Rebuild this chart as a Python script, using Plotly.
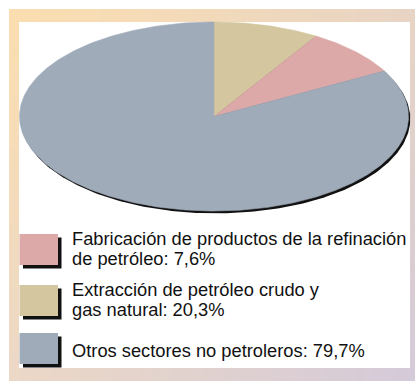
import numpy as np
import plotly.graph_objects as go

# ---- data ----
categories = [
    "Fabricación de productos de la refinación de petróleo",
    "Extracción de petróleo crudo y gas natural",
    "Otros sectores no petroleros",
]
label_pct = ["7,6%", "20,3%", "79,7%"]
# slice sizes as drawn in the picture (percent of the ellipse)
slice_values = [8.2, 8.8, 83.0]
# clockwise drawing order starting at 12 o'clock
slice_order = [1, 0, 2]
slice_colors = ["#DCA9A8", "#D4C7A0", "#A0ABBA"]
legend_lines = [
    ["Fabricación de productos de la refinación", "de petróleo: 7,6%"],
    ["Extracción de petróleo crudo y", "gas natural: 20,3%"],
    ["Otros sectores no petroleros: 79,7%"],
]

# ---- geometry / style ----
W, H = 415, 381
cx, cy, ea, eb = 214, 116.5, 194.5, 94.5

fig = go.Figure()

def ellipse_pts(t0, t1, n=200, dx=0.0, dy=0.0, center=True):
    t = np.linspace(t0, t1, n)
    xs = list(cx + dx + ea * np.sin(t))
    ys = list(cy + dy - eb * np.cos(t))
    if center:
        xs = [cx + dx] + xs + [cx + dx]
        ys = [cy + dy] + ys + [cy + dy]
    return xs, ys

# shadow under the pie
sx, sy = ellipse_pts(0, 2 * np.pi, 400, dx=1.8, dy=2.4, center=False)
fig.add_trace(go.Scatter(x=sx, y=sy, fill="toself", fillcolor="#111111",
                         line=dict(width=0), mode="lines", hoverinfo="skip",
                         showlegend=False))

total = sum(slice_values)
start = 0.0
for idx in slice_order:
    span = 2 * np.pi * slice_values[idx] / total
    xs, ys = ellipse_pts(start, start + span, max(20, int(span * 80)))
    fig.add_trace(go.Scatter(x=xs, y=ys, fill="toself",
                             fillcolor=slice_colors[idx],
                             line=dict(width=0.6, color=slice_colors[idx]),
                             mode="lines", name=categories[idx],
                             hoverinfo="name", showlegend=False))
    start += span

shapes = []
# gradient frame
TL, TR, BL, BR = (251, 222, 176), (232, 212, 196), (236, 216, 198), (212, 202, 217)

def mix(c1, c2, f):
    return "rgb(%d,%d,%d)" % tuple(round(a + (b - a) * f) for a, b in zip(c1, c2))

fx0, fy0, fx1, fy1 = 9, 9, 415, 381
ix0, iy0, ix1, iy1 = 19, 22, 410, 368
N = 40
for i in range(N):
    f = (i + 0.5) / N
    xa = fx0 + (fx1 - fx0) * i / N
    xb = fx0 + (fx1 - fx0) * (i + 1) / N
    ya = fy0 + (fy1 - fy0) * i / N
    yb = fy0 + (fy1 - fy0) * (i + 1) / N
    shapes.append(dict(type="rect", xref="x", yref="y", x0=xa, x1=xb + 0.6, y0=fy0, y1=iy0,
                       fillcolor=mix(TL, TR, f), line=dict(width=0), layer="below"))
    shapes.append(dict(type="rect", xref="x", yref="y", x0=xa, x1=xb + 0.6, y0=iy1, y1=fy1,
                       fillcolor=mix(BL, BR, f), line=dict(width=0), layer="below"))
    shapes.append(dict(type="rect", xref="x", yref="y", x0=fx0, x1=ix0, y0=ya, y1=yb + 0.6,
                       fillcolor=mix(TL, BL, f), line=dict(width=0), layer="below"))
    shapes.append(dict(type="rect", xref="x", yref="y", x0=ix1, x1=fx1, y0=ya, y1=yb + 0.6,
                       fillcolor=mix(TR, BR, f), line=dict(width=0), layer="below"))

# legend swatches with drop shadow
sw_tops = [234, 285, 333]
sw_x0, sw_w, sw_h, sh = 19.5, 38.5, 31, 3.5
annotations = []
for k, top in enumerate(sw_tops):
    shapes.append(dict(type="rect", xref="x", yref="y", x0=sw_x0 + sh, x1=sw_x0 + sw_w + sh,
                       y0=top + sh, y1=top + sw_h + sh, fillcolor="#111111", line=dict(width=0)))
    shapes.append(dict(type="rect", xref="x", yref="y", x0=sw_x0, x1=sw_x0 + sw_w,
                       y0=top, y1=top + sw_h, fillcolor=slice_colors[k], line=dict(width=0)))
    lines = legend_lines[k]
    if len(lines) == 1:
        ys = [top + 17]
    else:
        ys = [top + 4 + 20 * j for j in range(len(lines))]
    for txt, yy in zip(lines, ys):
        annotations.append(dict(x=70, y=yy, xref="x", yref="y", text=txt,
                                showarrow=False, xanchor="left", yanchor="middle",
                                font=dict(family="Liberation Sans, Arial, sans-serif",
                                          size=18.3, color="#111111")))

fig.update_layout(
    width=W, height=H,
    margin=dict(l=0, r=0, t=0, b=0),
    paper_bgcolor="white", plot_bgcolor="white",
    xaxis=dict(range=[0, W], visible=False, fixedrange=True),
    yaxis=dict(range=[H, 0], visible=False, fixedrange=True),
    shapes=shapes, annotations=annotations,
    showlegend=False,
)

fig.write_html("out.html")
